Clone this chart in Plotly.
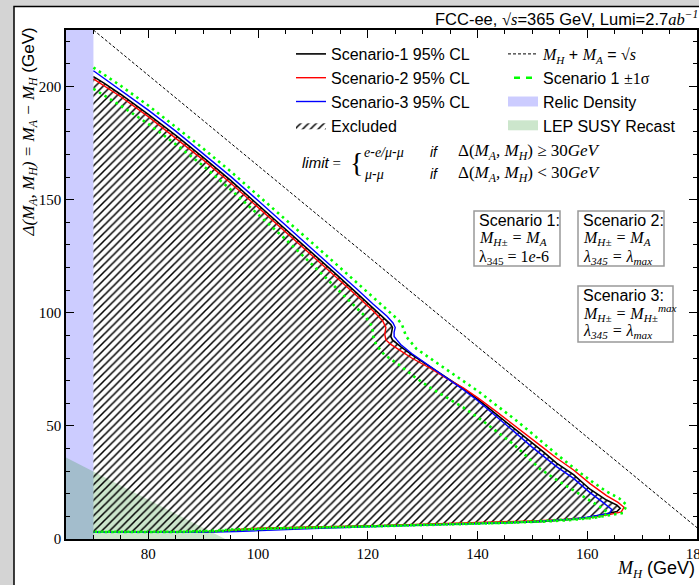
import plotly.graph_objects as go

# ---------------- data ----------------
# Scenario 1 (black) 95% CL contour: upper branch (from M_H=70 to tip) and lower branch (tip back to 70)
s1_up_mh = [70, 72, 75, 80, 85, 90, 95, 100, 105, 110, 114, 118, 121, 123, 124.2, 124.5, 124.4, 124.2, 124.5,
            125.2, 126, 128, 131.3, 134, 137.4, 140, 143.5, 147, 150, 152, 154.4, 157.5, 160.5, 163.5, 165.4, 166.0]
s1_up_dm = [204.4, 201.4, 196.5, 187.7, 178.4, 168.7, 158.5, 147.8, 137.0, 126.2, 117.5, 108.7, 102.0, 97.5, 94.8,
            93.5, 91.5, 89.5, 88.0, 86.5, 85.0, 81.5, 76.2, 71.8, 66.5, 61.8, 55.0, 48.5, 42.5, 38.5, 33.5, 28.5,
            22.0, 17.2, 15.0, 13.6]
s1_lo_mh = [165.4, 163.5, 160.5, 157.5, 154.4, 151.4, 145, 140, 135, 128, 120, 110, 104, 100, 96, 93, 90, 80, 70]
s1_lo_dm = [12.1, 11.1, 9.6, 8.7, 8.1, 7.7, 7.2, 7.0, 6.7, 6.2, 5.7, 5.2, 4.9, 4.5, 3.9, 3.4, 3.1, 3.0, 3.0]

# Scenario 2 (red)
s2_up_mh = [70, 75, 80, 85, 90, 95, 100, 105, 110, 114, 118, 121, 122.7, 123.3, 123.1, 123.3, 124.2, 126, 128,
            131.3, 134, 137.4, 140, 143.5, 147, 150, 152, 154.4, 157.5, 160.5, 163.5, 165.6, 166.7]
s2_up_dm = [203.4, 195.5, 186.7, 177.3, 167.6, 157.4, 146.7, 135.9, 125.0, 116.3, 107.5, 100.8, 96.5, 93.5, 90.5,
            88.0, 86.0, 83.0, 80.0, 75.6, 71.5, 66.8, 62.5, 56.2, 49.8, 44.0, 40.3, 35.8, 30.5, 24.5, 19.2, 16.2, 14.0]
s2_lo_mh = [166.2, 164, 161, 158, 155, 151, 145, 135, 128, 120, 110, 104, 100, 97, 94, 90, 80, 70]
s2_lo_dm = [12.0, 10.8, 9.6, 9.0, 8.5, 8.1, 7.6, 6.9, 6.3, 5.8, 5.3, 5.0, 4.8, 4.3, 3.5, 3.1, 3.0, 3.0]

# Scenario 3 (blue)
s3_up_mh = [70, 75, 80, 85, 90, 95, 100, 105, 110, 114, 118, 121, 123.5, 124.6, 125.0, 124.8, 124.8, 125.3, 126,
            128, 131.3, 134, 137.4, 140, 143.5, 147, 150, 152, 154.4, 157.5, 160.5, 162.8, 164.5]
s3_up_dm = [207.0, 198.5, 189.6, 180.3, 170.5, 160.3, 149.6, 138.8, 128.0, 119.3, 110.5, 103.8, 98.5, 95.5, 93.5,
            91.5, 89.5, 88.0, 86.0, 82.0, 76.4, 71.8, 66.0, 61.2, 54.2, 46.8, 40.5, 36.5, 32.0, 26.8, 20.5, 16.3, 13.0]
s3_lo_mh = [164, 162, 160, 157, 154, 150, 145, 135, 128, 120, 110, 104, 100, 96, 90, 80, 70]
s3_lo_dm = [11.3, 10.4, 9.6, 8.8, 8.2, 7.6, 7.2, 6.6, 6.0, 5.4, 4.6, 4.0, 3.6, 3.3, 3.0, 3.0, 3.0]

# Scenario 1 +1 sigma (outer green dotted)
gp_up_mh = [70, 75, 80, 85, 90, 95, 100, 105, 110, 114, 118, 121, 124, 125.5, 126.2, 126.6, 127, 128.9, 131.3,
            134, 137.4, 140, 143.5, 147, 150, 152.6, 154.4, 157.5, 160.5, 163.5, 165.8, 167.2]
gp_up_dm = [208.4, 200.3, 191.6, 182.3, 172.6, 162.5, 152.0, 141.3, 130.6, 122.0, 113.4, 107.0, 100.5, 97.0, 95.0,
            92.0, 89.5, 84.0, 80.0, 75.5, 70.0, 65.5, 59.0, 52.5, 46.5, 41.0, 37.5, 31.5, 26.0, 21.0, 18.0, 15.0]
gp_lo_mh = [166.5, 164, 161, 157, 152, 145, 135, 128, 120, 110, 104, 100, 96, 92, 85, 70]
gp_lo_dm = [11.5, 10.5, 9.3, 8.4, 7.7, 7.1, 6.4, 5.9, 5.5, 5.1, 4.9, 4.7, 4.3, 3.6, 3.2, 3.2]

# Scenario 1 -1 sigma (inner green dotted)
gm_up_mh = [70, 72, 75, 80, 85, 90, 95, 100, 105, 110, 114, 117, 119.5, 120.8, 121.0, 121.5, 123, 126, 128.3,
            131.3, 134.4, 137.5, 140.5, 143.5, 146.5, 149, 151.4, 154.5, 157.5, 160.5, 162.8, 163.8]
gm_up_dm = [199.0, 196.0, 191.5, 183.5, 174.5, 165.0, 154.5, 143.5, 132.5, 121.0, 111.5, 104.5, 98.5, 94.0, 89.5,
            86.0, 81.5, 76.5, 72.0, 67.0, 62.5, 58.0, 53.0, 47.5, 42.0, 36.5, 31.0, 26.0, 21.5, 17.0, 13.5, 11.5]
gm_lo_mh = [163, 160, 155, 150, 145, 135, 128, 120, 110, 104, 100, 96, 92, 85, 70]
gm_lo_dm = [10.2, 9.2, 8.3, 7.7, 7.2, 6.5, 6.0, 5.5, 5.0, 4.7, 4.4, 4.0, 3.4, 3.1, 3.1]

# kinematic line M_H + M_A = sqrt(s) = 365 GeV  (Delta = 365 - 2 M_H)
kin_mh = [70, 182.5]
kin_dm = [225, 0]

# Relic density band and LEP SUSY recast region
relic_mh = [65, 70, 70, 65]
relic_dm = [0, 0, 225, 225]
lep_mh = [65, 65, 94]
lep_dm = [0, 36, 0]

X_RANGE = [65, 180]
Y_RANGE = [0, 225]

# ---------------- layout geometry ----------------
W, H = 699, 585
ML, MR, MT, MB = 66, 2, 30, 46
PW, PH = W - ML - MR, H - MT - MB


def px(x):
    return (x - ML) / PW


def py(y):
    return (H - MB - y) / PH


SANS = "Liberation Sans, Arial, sans-serif"
SERIF = "Liberation Serif, DejaVu Serif, serif"
RELIC_COLOR = "rgba(0,0,255,0.2)"
LEP_COLOR = "rgba(0,128,0,0.2)"
SIG_COLOR = "#00ff00"


def m(s, italic=True):
    inner = f"<i>{s}</i>" if italic else s
    return f'<span style="font-family:Liberation Serif">{inner}</span>'


fig = go.Figure()

# background regions
fig.add_trace(go.Scatter(x=relic_mh, y=relic_dm, fill="toself", mode="lines", line=dict(width=0),
                         fillcolor=RELIC_COLOR, showlegend=False, hoverinfo="skip"))
fig.add_trace(go.Scatter(x=lep_mh, y=lep_dm, fill="toself", mode="lines", line=dict(width=0),
                         fillcolor=LEP_COLOR, showlegend=False, hoverinfo="skip"))
# legend patches for those regions
fig.add_trace(go.Scatter(x=[None], y=[None], mode="lines", line=dict(color=RELIC_COLOR, width=12),
                         name="Relic Density", legend="legend2", legendrank=3))
fig.add_trace(go.Scatter(x=[None], y=[None], mode="lines", line=dict(color=LEP_COLOR, width=12),
                         name="LEP SUSY Recast", legend="legend2", legendrank=4))

# excluded (hatched) region = inside scenario-1 contour
fig.add_trace(go.Scatter(x=s1_up_mh + s1_lo_mh, y=s1_up_dm + s1_lo_dm, fill="toself", mode="lines",
                         line=dict(width=0, color="black"), fillcolor="rgba(0,0,0,0)",
                         fillpattern=dict(shape="/", fgcolor="black", bgcolor="rgba(255,255,255,0)",
                                          size=5.5, solidity=0.28),
                         name="Excluded", legend="legend", legendrank=4, hoverinfo="skip"))

# contour lines
fig.add_trace(go.Scatter(x=s1_up_mh + s1_lo_mh, y=s1_up_dm + s1_lo_dm, mode="lines",
                         line=dict(color="black", width=1.6), name="Scenario-1 95% CL",
                         legend="legend", legendrank=1))
fig.add_trace(go.Scatter(x=s2_up_mh + s2_lo_mh, y=s2_up_dm + s2_lo_dm, mode="lines",
                         line=dict(color="#ff0000", width=1.4), name="Scenario-2 95% CL",
                         legend="legend", legendrank=2))
fig.add_trace(go.Scatter(x=s3_up_mh + s3_lo_mh, y=s3_up_dm + s3_lo_dm, mode="lines",
                         line=dict(color="#0000ff", width=1.4), name="Scenario-3 95% CL",
                         legend="legend", legendrank=3))

fig.add_trace(go.Scatter(x=kin_mh, y=kin_dm, mode="lines",
                         line=dict(color="black", width=1, dash="3px,2px"),
                         name=m("M<sub>H</sub>") + " + " + m("M<sub>A</sub>") + " = " + m("√", False) + m("s"),
                         legend="legend2", legendrank=1))

fig.add_trace(go.Scatter(x=gp_up_mh + gp_lo_mh, y=gp_up_dm + gp_lo_dm, mode="lines",
                         line=dict(color=SIG_COLOR, width=2.6, dash="2.5px,4px"),
                         name="Scenario 1 +1σ", legendgroup="sig", showlegend=False))
fig.add_trace(go.Scatter(x=gm_up_mh + gm_lo_mh, y=gm_up_dm + gm_lo_dm, mode="lines",
                         line=dict(color=SIG_COLOR, width=2.6, dash="2.5px,4px"),
                         name="Scenario 1 -1σ", legendgroup="sig", showlegend=False))
# legend entry for the +-1 sigma band (drawn as short dashes, as in the reference legend)
fig.add_trace(go.Scatter(x=[None], y=[None], mode="lines",
                         line=dict(color=SIG_COLOR, width=2.4, dash="0px,6px,6px,6px,6px,6px"),
                         name="Scenario 1 " + m("±1σ", False), legendgroup="sig",
                         legend="legend2", legendrank=2))

axis_common = dict(showline=True, linecolor="black", linewidth=1.5, mirror="allticks", ticks="inside",
                   ticklen=8, tickwidth=1, tickcolor="black", showgrid=False, zeroline=False,
                   tickfont=dict(family=SERIF, size=15, color="black"), automargin=False,
                   ticklabeloverflow="allow",
                   minor=dict(ticks="inside", ticklen=4, tickwidth=1, tickcolor="black", showgrid=False))

fig.update_xaxes(range=X_RANGE, tick0=0, dtick=20, **axis_common)
fig.update_xaxes(minor_dtick=5)
fig.update_yaxes(range=Y_RANGE, tick0=0, dtick=50, **axis_common)
fig.update_yaxes(minor_dtick=10)

legend_style = dict(bgcolor="rgba(0,0,0,0)", borderwidth=0, font=dict(family=SANS, size=16, color="black"),
                    xanchor="left", yanchor="top", tracegroupgap=0, traceorder="normal")


def txt(xp, yp, text, size, family=SANS, anchor="left", angle=0, yanchor="middle"):
    return dict(x=px(xp), y=py(yp), xref="paper", yref="paper", xanchor=anchor, yanchor=yanchor,
                showarrow=False, text=text, textangle=angle, font=dict(family=family, size=size, color="black"))


annotations = [
    # header
    txt(700, 18, "FCC-ee, " + m("√", False) + m("s") + "=365 GeV, Lumi=2.7" + m("ab") + m("<sup>−1</sup>"),
        16.5, anchor="right"),
    # x title
    txt(697, 569, m("M<sub>H</sub>") + " (GeV)", 18, anchor="right"),
    # y title
    txt(29, 26, m("Δ(M<sub>A</sub>, M<sub>H</sub>) = M<sub>A</sub> − M<sub>H</sub>") + " (GeV)", 17,
        anchor="center", angle=-90, yanchor="top"),
    # limit definition
    txt(300, 162, "<i>limit</i>" + m(" = ", False), 15),
    txt(348, 162, m("{", False), 28, family=SERIF),
    txt(362, 152, m("e") + "-" + m("e/μ") + "-" + m("μ"), 14),
    txt(362, 174, m("μ") + "-" + m("μ"), 14),
    txt(428, 152, "<i>if</i>", 14),
    txt(428, 174, "<i>if</i>", 14),
    txt(456, 152, m("Δ(", False) + m("M<sub>A</sub>, M<sub>H</sub>") + m(") ≥ 30", False) + m("GeV"), 17, SERIF),
    txt(456, 174, m("Δ(", False) + m("M<sub>A</sub>, M<sub>H</sub>") + m(") < 30", False) + m("GeV"), 17, SERIF),
    # scenario boxes
    txt(477, 220, "Scenario 1:", 16),
    txt(477, 238, m("M<sub>H±</sub> = M<sub>A</sub>"), 16, SERIF),
    txt(477, 257, m("λ<sub>345</sub> = 1", False) + m("e") + m("-6", False), 16, SERIF),
    txt(581, 220, "Scenario 2:", 16),
    txt(581, 238, m("M<sub>H±</sub> = M<sub>A</sub>"), 16, SERIF),
    txt(581, 257, m("λ<sub>345</sub> = λ<sub>max</sub>"), 16, SERIF),
    txt(581, 295, "Scenario 3:", 16),
    txt(581, 313, m("M<sub>H±</sub> = M<sub>H±</sub><sup>max</sup>"), 16, SERIF),
    txt(581, 331, m("λ<sub>345</sub> = λ<sub>max</sub>"), 16, SERIF),
]


def box(x0, y0, x1, y1):
    return dict(type="rect", xref="paper", yref="paper", x0=px(x0), x1=px(x1), y0=py(y0), y1=py(y1),
                line=dict(color="#999999", width=1.5), fillcolor="white", layer="above")


shapes = [
    dict(type="rect", xref="paper", yref="paper", x0=px(14), x1=px(710), y0=py(6.5), y1=py(600),
         line=dict(color="black", width=1.5), fillcolor="white", layer="below"),
    box(474, 211, 560, 266),
    box(578, 211, 664, 266),
    box(578, 286, 673, 342),
]

fig.update_layout(
    width=W, height=H, margin=dict(l=ML, r=MR, t=MT, b=MB, pad=0),
    paper_bgcolor="#d4d4d4", plot_bgcolor="rgba(0,0,0,0)",
    template="none", showlegend=True,
    legend=dict(x=px(291), y=py(37), **legend_style),
    legend2=dict(x=px(503), y=py(37), **legend_style),
    annotations=annotations, shapes=shapes,
    font=dict(family=SANS, color="black"),
)

fig.write_html("out.html")
